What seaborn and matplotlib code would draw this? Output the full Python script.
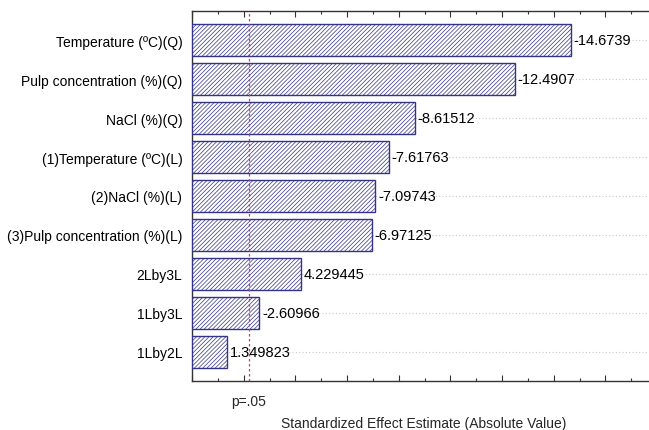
import matplotlib
matplotlib.use("Agg")
import matplotlib.pyplot as plt
import seaborn as sns
import pandas as pd
from matplotlib.ticker import MultipleLocator

# Pareto chart of standardized effects
factors = [
    "Temperature (ºC)(Q)",
    "Pulp concentration (%)(Q)",
    "NaCl (%)(Q)",
    "(1)Temperature (ºC)(L)",
    "(2)NaCl (%)(L)",
    "(3)Pulp concentration (%)(L)",
    "2Lby3L",
    "1Lby3L",
    "1Lby2L",
]
effects = [-14.6739, -12.4907, -8.61512, -7.61763, -7.09743, -6.97125, 4.229445, -2.60966, 1.349823]
effect_labels = ["-14.6739", "-12.4907", "-8.61512", "-7.61763", "-7.09743",
                 "-6.97125", "4.229445", "-2.60966", "1.349823"]
p_crit = 2.201  # p=.05

df = pd.DataFrame({"factor": factors, "effect": effects})
df["abs_effect"] = df["effect"].abs()

sns.set_style("white")
plt.rcParams["font.family"] = ["Liberation Sans", "DejaVu Sans"]
plt.rcParams["hatch.linewidth"] = 0.5

W, H = 649, 431
fig = plt.figure(figsize=(W / 100, H / 100), dpi=100)
ax = fig.add_axes([192 / W, 49 / H, 465 / W, 370 / H])

sns.barplot(data=df, x="abs_effect", y="factor", orient="h", ax=ax,
            color="white", edgecolor="#33338a", linewidth=1.0, width=0.82,
            saturation=1, zorder=3)
for bar in ax.patches:
    bar.set_hatch("////////")
    bar.set_edgecolor("#33338a")

ax.bar_label(ax.containers[0], labels=effect_labels, padding=2, fontsize=10.5,
             color="black", zorder=4)

# dotted guide lines at each factor
for i in range(len(factors)):
    ax.axhline(i, color="#c8c8c8", linestyle=(0, (1, 2)), linewidth=0.8, zorder=1)

ax.axvline(p_crit, color="#c83c64", linestyle=(0, (2, 2)), linewidth=0.9, zorder=5)

ax.set_xlim(0, 18)
ax.set_ylim(len(factors) - 0.25, -0.75)
ax.xaxis.set_major_locator(MultipleLocator(2))
ax.xaxis.set_minor_locator(MultipleLocator(1))
ax.set_xticklabels([])
ax.tick_params(axis="x", which="both", direction="in", top=True, bottom=True, colors="#333333")
ax.tick_params(axis="x", which="major", length=4, width=0.8)
ax.tick_params(axis="x", which="minor", length=2.5, width=0.8)
ax.yaxis.set_minor_locator(MultipleLocator(0.5))
ax.tick_params(axis="y", which="major", direction="in", length=4, labelsize=10, pad=7,
               colors="#333333", labelcolor="black")
ax.tick_params(axis="y", which="minor", direction="in", length=2.5)
ax.set_ylabel("")
ax.set_xlabel("Standardized Effect Estimate (Absolute Value)", fontsize=10)
ax.xaxis.set_label_coords(0.499, -0.095)
ax.text(p_crit, -0.035, "p=.05", transform=ax.get_xaxis_transform(),
        ha="center", va="top", fontsize=10)

for side in ["left", "bottom", "top", "right"]:
    ax.spines[side].set_color("#333333")
    ax.spines[side].set_linewidth(1.0)

fig.savefig("out.png", dpi=100)
